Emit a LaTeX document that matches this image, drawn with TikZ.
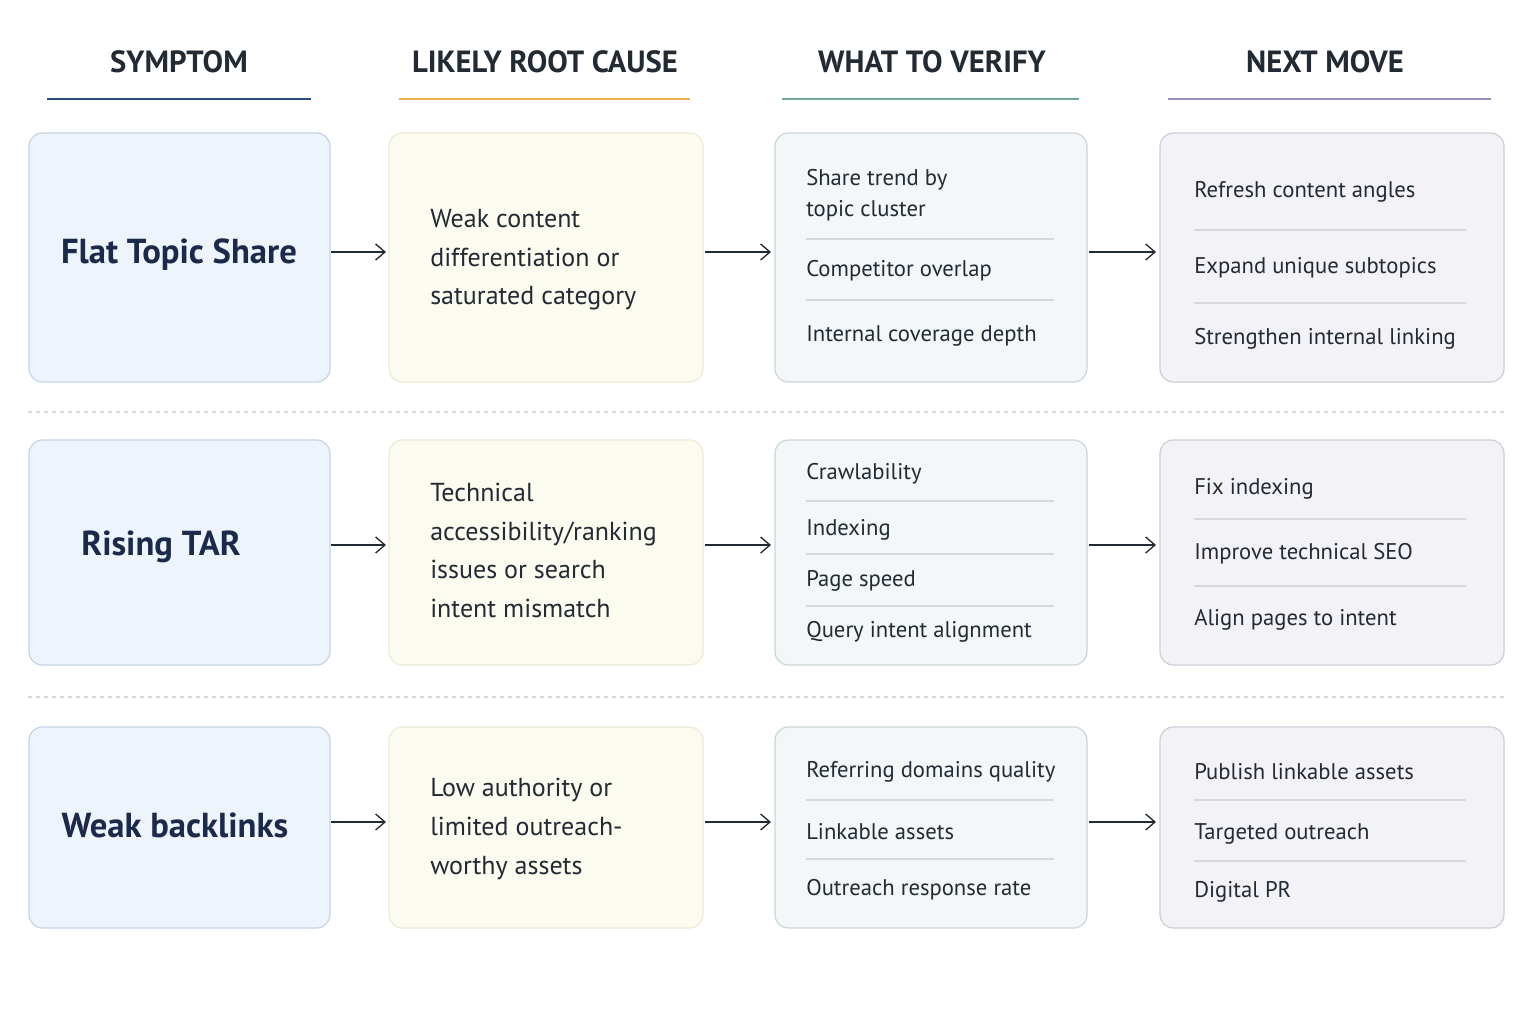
\documentclass[tikz,border=0pt]{standalone}
\usepackage{fontspec}
\setmainfont{PT Sans}
\usetikzlibrary{arrows.meta}
\definecolor{txt}{HTML}{222A33}
\definecolor{navy}{HTML}{1B2A4A}
\definecolor{fA}{HTML}{EEF4FB}\definecolor{dA}{HTML}{C3D4E6}
\definecolor{fB}{HTML}{FCFBF0}\definecolor{dB}{HTML}{EFEAD6}
\definecolor{fC}{HTML}{F4F7F8}\definecolor{dC}{HTML}{CBD5DA}
\definecolor{fD}{HTML}{F3F3F7}\definecolor{dD}{HTML}{CDCDD8}
\definecolor{uA}{HTML}{2D4A7C}\definecolor{uB}{HTML}{E8B04A}
\definecolor{uC}{HTML}{6FA89A}\definecolor{uD}{HTML}{9A8DB8}
\definecolor{sep}{HTML}{D5D9DE}
\tikzset{
 hdr/.style={font=\fontsize{23}{26}\selectfont\bfseries, text=txt},
 uline/.style={line width=1.6pt},
 cbox/.style={rounded corners=10pt, line width=0.9pt},
 title/.style={font=\fontsize{26}{30}\selectfont\bfseries, text=navy},
 body/.style={font=\fontsize{19.5}{28}\selectfont, text=txt, anchor=west, inner sep=0pt},
 item/.style={font=\fontsize{17}{23}\selectfont, text=txt, anchor=west, inner sep=0pt},
 sepl/.style={draw=sep, line width=0.8pt},
 arr/.style={-{Straight Barb[length=7pt,width=12pt]}, line width=1pt, draw=txt},
 dsh/.style={draw=sep, dashed, line width=0.8pt}
}
\begin{document}
\begin{tikzpicture}[x=0.75pt,y=-0.75pt]
\useasboundingbox[fill=white] (0,0) rectangle (1536,1024);
% headers
\node[hdr] (h1) at (179,62) {SYMPTOM};
\node[hdr] (h2) at (545,62) {LIKELY ROOT CAUSE};
\node[hdr] (h3) at (932,62) {WHAT TO VERIFY};
\node[hdr] (h4) at (1325,62) {NEXT MOVE};
\draw[uline,uA] (47,99) -- (311,99);
\draw[uline,uB] (399,99) -- (690,99);
\draw[uline,uC] (782,99) -- (1079,99);
\draw[uline,uD] (1168,99) -- (1491,99);
% separators
\draw[dsh] (28,412) -- (1508,412);
\draw[dsh] (28,697) -- (1508,697);
% row boxes
\foreach \t/\b in {133/382,440/665,727/928}{
 \draw[cbox,fill=fA,draw=dA] (29,\t) rectangle (330,\b);
 \draw[cbox,fill=fB,draw=dB] (389,\t) rectangle (703,\b);
 \draw[cbox,fill=fC,draw=dC] (775,\t) rectangle (1087,\b);
 \draw[cbox,fill=fD,draw=dD] (1160,\t) rectangle (1504,\b);
}
% arrows
\foreach \y/\r in {252/1,545/2,822/3}{
 \coordinate (s1\r) at (331,\y); \coordinate (e1\r) at (386,\y);
 \coordinate (s2\r) at (705,\y); \coordinate (e2\r) at (771,\y);
 \coordinate (s3\r) at (1089,\y); \coordinate (e3\r) at (1156,\y);
 \draw[arr] (s1\r) -- (e1\r);
 \draw[arr] (s2\r) -- (e2\r);
 \draw[arr] (s3\r) -- (e3\r);
}
% titles
\node[title] (t1) at (179,255) {Flat Topic Share};
\node[title] (t2) at (161,547) {Rising TAR};
\node[title] (t3) at (175,825) {Weak backlinks};
% column 2
\node[body] (c21) at (430,259) {\begin{tabular}{@{}l@{}}Weak content\\[0.9pt]differentiation or\\[0.9pt]saturated category\end{tabular}};
\node[body] (c22) at (430,552) {\begin{tabular}{@{}l@{}}Technical\\[0.9pt]accessibility/ranking\\[0.9pt]issues or search\\[0.9pt]intent mismatch\end{tabular}};
\node[body] (c23) at (430,828) {\begin{tabular}{@{}l@{}}Low authority or\\[0.9pt]limited outreach-\\[0.9pt]worthy assets\end{tabular}};
% column 3 row 1
\node[item] (v11) at (806,195) {\begin{tabular}{@{}l@{}}Share trend by\\[0pt]topic cluster\end{tabular}};
\draw[sepl] (806,239) -- (1054,239);
\node[item] (v12) at (806,271) {Competitor overlap};
\draw[sepl] (806,300) -- (1054,300);
\node[item] (v13) at (806,336) {Internal coverage depth};
% column 3 row 2
\node[item] (v21) at (806,474) {Crawlability};
\draw[sepl] (806,501) -- (1054,501);
\node[item] (v22) at (806,530) {Indexing};
\draw[sepl] (806,554) -- (1054,554);
\node[item] (v23) at (806,581) {Page speed};
\draw[sepl] (806,606) -- (1054,606);
\node[item] (v24) at (806,632) {Query intent alignment};
% column 3 row 3
\node[item] (v31) at (806,772) {Referring domains quality};
\draw[sepl] (806,800) -- (1054,800);
\node[item] (v32) at (806,832) {Linkable assets};
\draw[sepl] (806,859) -- (1054,859);
\node[item] (v33) at (806,890) {Outreach response rate};
% column 4 row 1
\node[item] (n11) at (1194,192) {Refresh content angles};
\draw[sepl] (1194,230) -- (1466,230);
\node[item] (n12) at (1194,268) {Expand unique subtopics};
\draw[sepl] (1194,303) -- (1466,303);
\node[item] (n13) at (1194,339) {Strengthen internal linking};
% column 4 row 2
\node[item] (n21) at (1194,489) {Fix indexing};
\draw[sepl] (1194,519) -- (1466,519);
\node[item] (n22) at (1194,554) {Improve technical SEO};
\draw[sepl] (1194,586) -- (1466,586);
\node[item] (n23) at (1194,620) {Align pages to intent};
% column 4 row 3
\node[item] (n31) at (1194,772) {Publish linkable assets};
\draw[sepl] (1194,800) -- (1466,800);
\node[item] (n32) at (1194,834) {Targeted outreach};
\draw[sepl] (1194,861) -- (1466,861);
\node[item] (n33) at (1194,892) {Digital PR};
\end{tikzpicture}
\end{document}
